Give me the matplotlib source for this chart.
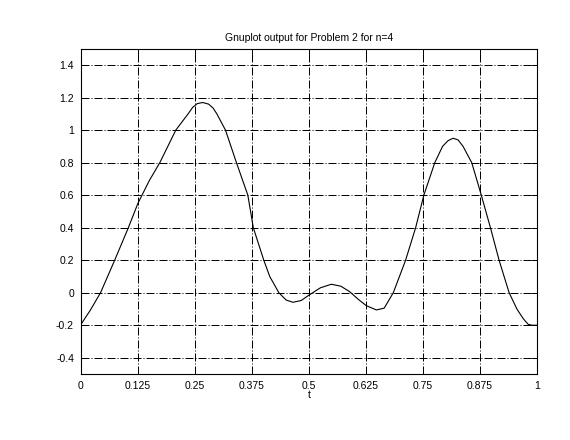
import matplotlib
matplotlib.use('Agg')
import matplotlib.pyplot as plt

# valores
t = [0.0, 0.02, 0.043, 0.074, 0.104, 0.125, 0.15, 0.173, 0.208, 0.235, 0.245,
     0.255, 0.267, 0.28, 0.29, 0.298, 0.317, 0.341, 0.366, 0.378, 0.401, 0.414,
     0.434, 0.45, 0.465, 0.483, 0.5, 0.525, 0.549, 0.57, 0.589, 0.61, 0.626,
     0.648, 0.665, 0.685, 0.712, 0.734, 0.752, 0.776, 0.793, 0.805, 0.816,
     0.827, 0.838, 0.857, 0.878, 0.898, 0.917, 0.939, 0.956, 0.97, 0.981,
     0.99, 1.0]
y = [-0.195, -0.11, 0.0, 0.2, 0.4, 0.55, 0.69, 0.8, 1.0, 1.1, 1.14,
     1.163, 1.17, 1.16, 1.135, 1.1, 1.0, 0.8, 0.6, 0.4, 0.2, 0.1,
     0.0, -0.045, -0.059, -0.048, -0.015, 0.03, 0.052, 0.04, 0.007, -0.045, -0.08,
     -0.106, -0.095, 0.0, 0.2, 0.4, 0.6, 0.8, 0.9, 0.935, 0.95,
     0.94, 0.9, 0.8, 0.6, 0.4, 0.2, 0.0, -0.1, -0.16, -0.195,
     -0.2, -0.2]
xticks = [0, 0.125, 0.25, 0.375, 0.5, 0.625, 0.75, 0.875, 1]
xlabels = ['0', '0.125', '0.25', '0.375', '0.5', '0.625', '0.75', '0.875', '1']
yticks = [-0.4, -0.2, 0, 0.2, 0.4, 0.6, 0.8, 1, 1.2, 1.4]
ylabels = ['-0.4', '-0.2', '0', '0.2', '0.4', '0.6', '0.8', '1', '1.2', '1.4']

plt.rcParams['font.family'] = ['Liberation Sans', 'DejaVu Sans']
plt.rcParams['font.size'] = 7.5

fig = plt.figure(figsize=(5.7, 4.4), dpi=100)
ax = fig.add_axes([0.142, 0.15, 0.8, 0.739])

ax.plot(t, y, color='black', linewidth=0.8)

ax.set_xlim(0, 1)
ax.set_ylim(-0.5, 1.5)
ax.set_xticks(xticks)
ax.set_xticklabels(xlabels)
ax.set_yticks(yticks)
ax.set_yticklabels(ylabels)
ax.tick_params(direction='in', length=4, width=0.7, pad=5, top=True, right=True)
ax.grid(True, color='black', linewidth=0.72, linestyle=(0, (8, 2, 1, 2)))
for s in ax.spines.values():
    s.set_linewidth(0.8)

ax.set_title('Gnuplot output for Problem 2 for n=4', fontsize=7.5, pad=6)
ax.set_xlabel('t', labelpad=-1)

fig.savefig('out.png', dpi=100)
